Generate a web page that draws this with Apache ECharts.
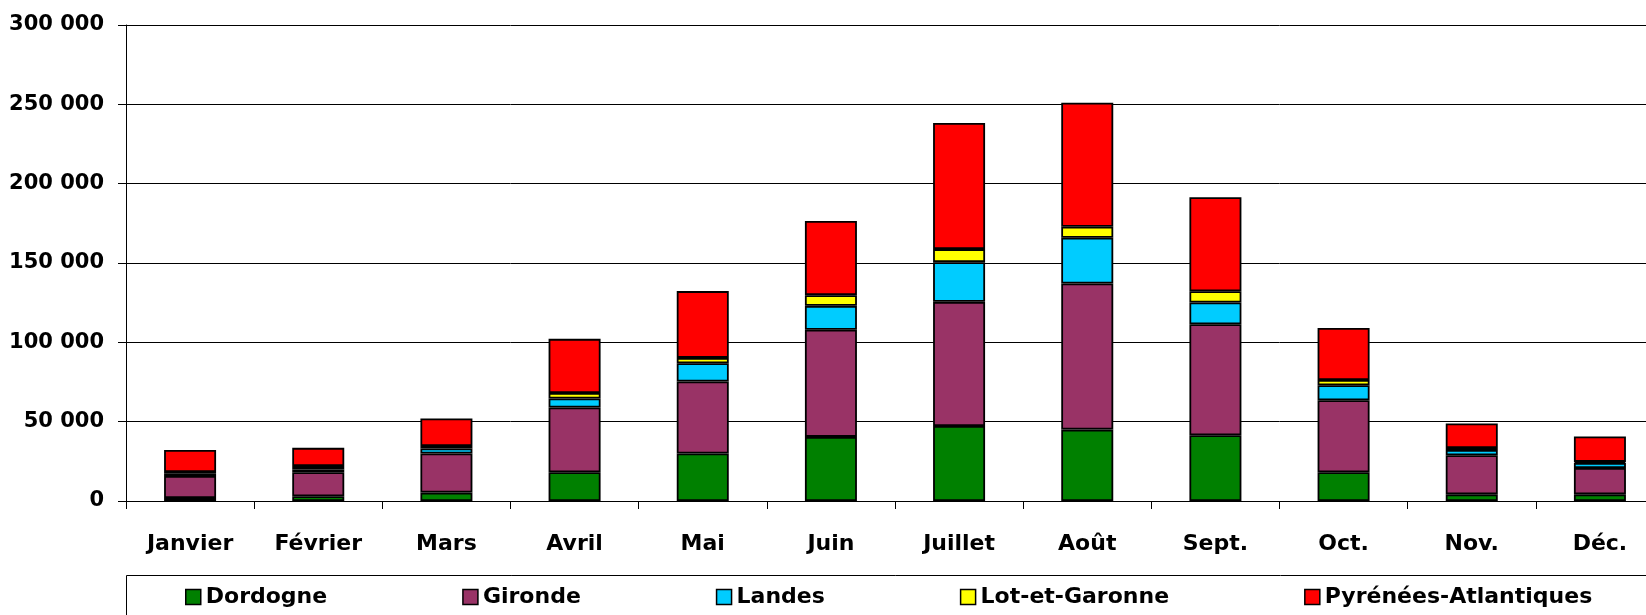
<!DOCTYPE html>
<html>
<head>
<meta charset="utf-8">
<script src="https://cdn.jsdelivr.net/npm/echarts@6/dist/echarts.min.js"></script>
<style>
  html, body { margin: 0; padding: 0; background: #fff; overflow: hidden; }
  /* the plot runs a little past the right edge of the window, as in the source */
  #main { width: 1664px; height: 615px; }
</style>
</head>
<body>
<div id="main"></div>
<script>
const months = ['Janvier', 'Février', 'Mars', 'Avril', 'Mai', 'Juin', 'Juillet', 'Août', 'Sept.', 'Oct.', 'Nov.', 'Déc.'];
const dordogne = [1900, 3000, 5300, 18100, 29900, 40400, 47300, 45000, 41400, 18100, 4200, 4200];
const gironde = [13900, 15100, 24600, 40800, 45400, 67500, 78200, 92100, 70000, 45400, 24600, 16600];
const landes = [1300, 1800, 3150, 5700, 11550, 15100, 25050, 28800, 13700, 9450, 3350, 3150];
const lotEtGaronne = [1200, 2200, 1650, 3500, 3350, 6750, 8200, 6900, 7100, 3350, 1250, 700];
const pyrenees = [13900, 11400, 17300, 34100, 42100, 46700, 79500, 78200, 59300, 32800, 15400, 16000];
const yTicks = [0, 50000, 100000, 150000, 200000, 250000, 300000];

const font = 'DejaVu Sans';
const chart = echarts.init(document.getElementById('main'));

function bar(name, data, color) {
  return {
    name: name,
    type: 'bar',
    stack: 'total',
    barWidth: 52,
    data: data,
    itemStyle: { color: color, borderColor: '#000', borderWidth: 1.8 }
  };
}

chart.setOption({
  animation: false,
  grid: { left: 126, top: 25, right: 0, bottom: 114 },
  legend: {
    left: 185,
    top: 585,
    padding: 0,
    icon: 'rect',
    itemWidth: 15,
    itemHeight: 15,
    itemGap: 135,
    itemStyle: { borderColor: '#000', borderWidth: 1.5 },
    textStyle: { fontFamily: font, fontWeight: 'bold', fontSize: 22, color: '#000', lineHeight: 24 },
    data: ['Dordogne', 'Gironde', 'Landes', 'Lot-et-Garonne', 'Pyrénées-Atlantiques']
  },
  graphic: [{
    type: 'rect',
    left: 124,
    top: 573,
    shape: { width: 1600, height: 100 },
    style: { fill: 'none', stroke: '#000', lineWidth: 1 },
    silent: true
  }],
  xAxis: {
    type: 'category',
    data: months,
    axisLine: { lineStyle: { color: '#000', width: 1 } },
    axisTick: { show: true, length: 8, lineStyle: { color: '#000' } },
    axisLabel: { margin: 32, fontFamily: font, fontWeight: 'bold', fontSize: 22, color: '#000', lineHeight: 22 }
  },
  yAxis: {
    type: 'value',
    min: yTicks[0],
    max: yTicks[yTicks.length - 1],
    interval: yTicks[1] - yTicks[0],
    axisLine: { show: true, lineStyle: { color: '#000', width: 1 } },
    axisTick: { show: true, length: 8, lineStyle: { color: '#000' } },
    splitLine: { lineStyle: { color: '#000', width: 1 } },
    axisLabel: {
      margin: 22,
      fontFamily: font,
      fontWeight: 'bold',
      fontSize: 21,
      color: '#000',
      formatter: function (v) { return v === 0 ? '0' : (v / 1000) + ' 000'; }
    }
  },
  series: [
    bar('Dordogne', dordogne, '#008000'),
    bar('Gironde', gironde, '#993366'),
    bar('Landes', landes, '#00CCFF'),
    bar('Lot-et-Garonne', lotEtGaronne, '#FFFF00'),
    bar('Pyrénées-Atlantiques', pyrenees, '#FF0000')
  ]
});
</script>
</body>
</html>
